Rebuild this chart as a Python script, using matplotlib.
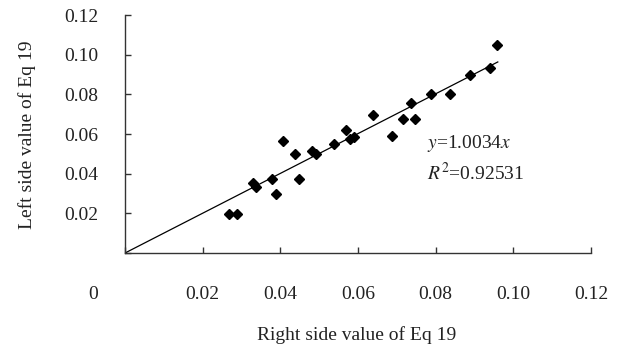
import matplotlib
matplotlib.use('Agg')
import matplotlib.pyplot as plt
import matplotlib.transforms as mtransforms

# ── data ──────────────────────────────────────────────────────────────────────
right_side = [0.0268, 0.0289, 0.0329, 0.0337, 0.0378, 0.0389, 0.0407, 0.0438,
              0.0448, 0.0481, 0.0491, 0.0539, 0.0569, 0.0579, 0.0590, 0.0638,
              0.0687, 0.0716, 0.0747, 0.0736, 0.0789, 0.0838, 0.0888, 0.0940,
              0.0957]
left_side = [0.0195, 0.0195, 0.0354, 0.0334, 0.0373, 0.0296, 0.0566, 0.0499,
             0.0373, 0.0516, 0.0499, 0.0548, 0.0620, 0.0573, 0.0586, 0.0696,
             0.0591, 0.0676, 0.0676, 0.0755, 0.0800, 0.0800, 0.0896, 0.0931,
             0.1049]
slope = 1.0034
r2 = 0.92531
fit_x = [0.0, 0.0960]

ticks = [0, 0.02, 0.04, 0.06, 0.08, 0.10, 0.12]
xtick_labels = ['0', '0.02', '0.04', '0.06', '0.08', '0.10', '0.12']
ytick_labels = ['', '0.02', '0.04', '0.06', '0.08', '0.10', '0.12']

plt.rcParams['font.family'] = 'Liberation Serif'
plt.rcParams['mathtext.fontset'] = 'stix'
TXT = '#222222'
FS = 14

fig = plt.figure(figsize=(6.2, 3.49), dpi=100)
ax = fig.add_axes([0.2016, 0.275, 0.7516, 0.682])

ax.plot(fit_x, [slope * v for v in fit_x], color='black', lw=0.9, zorder=2)
ax.plot(right_side, left_side, 'D', color='black', ms=5, zorder=3)

ax.set_xlim(0, 0.12)
ax.set_ylim(0, 0.12)
ax.set_xticks(ticks)
ax.set_xticklabels(xtick_labels)
ax.set_yticks(ticks)
ax.set_yticklabels(ytick_labels)

for s in ['top', 'right']:
    ax.spines[s].set_visible(False)
for s in ['left', 'bottom']:
    ax.spines[s].set_color('#333333')
    ax.spines[s].set_linewidth(1.0)

ax.tick_params(axis='both', direction='in', length=4.5, width=1.0,
               colors='#333333', labelcolor=TXT, labelsize=FS)
ax.tick_params(axis='x', pad=24)
ax.tick_params(axis='y', pad=19)

# the "0" label sits left of the origin in the original
shift = mtransforms.ScaledTranslation(-32 / 100, 0, fig.dpi_scale_trans)
lbl0 = ax.get_xticklabels()[0]
lbl0.set_transform(lbl0.get_transform() + shift)

ax.set_xlabel('Right side value of Eq 19', fontsize=FS, color=TXT)
ax.set_ylabel('Left side value of Eq 19', fontsize=FS, color=TXT)
ax.xaxis.set_label_coords(0.498, -0.308)
ax.yaxis.set_label_coords(-0.191, 0.496)

ax.text(0.648, 0.462, r'$y$=%.4f$x$' % slope, transform=ax.transAxes,
        fontsize=FS, color=TXT, va='center', ha='left')
ax.text(0.648, 0.336, r'$R^2$=%.5f' % r2, transform=ax.transAxes,
        fontsize=FS, color=TXT, va='center', ha='left')

fig.savefig('out.png', dpi=100)
